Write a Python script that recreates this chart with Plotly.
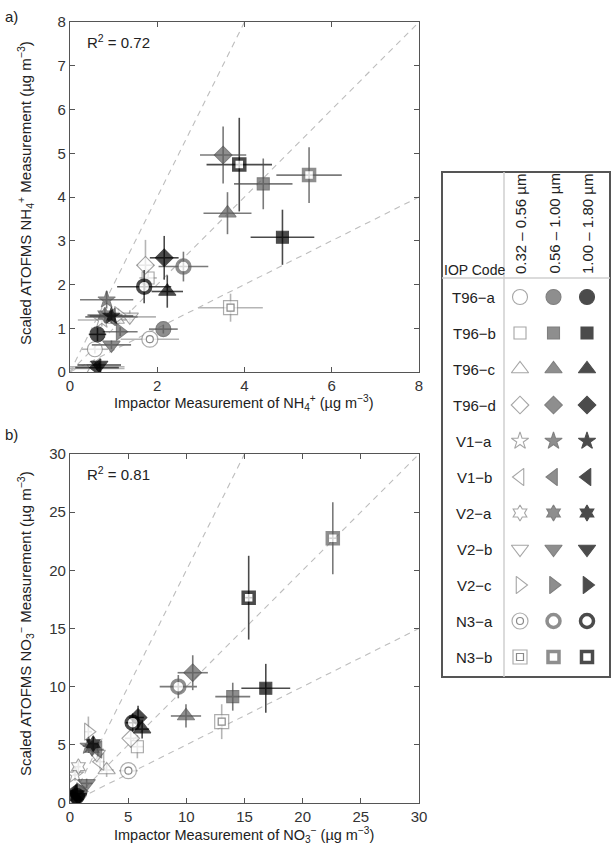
import plotly.graph_objects as go

# ---------------- data ----------------
CODES = ["T96-a", "T96-b", "T96-c", "T96-d", "V1-a", "V1-b", "V2-a", "V2-b", "V2-c", "N3-a", "N3-b"]
CODE_LABELS = ["T96−a", "T96−b", "T96−c", "T96−d", "V1−a", "V1−b", "V2−a", "V2−b", "V2−c", "N3−a", "N3−b"]
SIZE_BINS = ["0.32 – 0.56 µm", "0.56 – 1.00 µm", "1.00 – 1.80 µm"]

# Panel a) NH4+  (code, size-bin index, impactor x, ATOFMS y, x error, y error)
a_code = ["T96-a", "T96-a", "T96-a", "T96-b", "T96-b", "T96-b", "T96-c", "T96-c", "T96-c",
          "T96-d", "T96-d", "T96-d", "V1-a", "V1-a", "V1-a", "V1-b", "V1-b", "V1-b",
          "V2-a", "V2-a", "V2-b", "V2-b", "V2-b", "V2-c", "V2-c",
          "N3-a", "N3-a", "N3-a", "N3-b", "N3-b", "N3-b"]
a_bin = [0, 1, 2, 0, 1, 2, 0, 1, 2,
         0, 1, 2, 0, 1, 2, 0, 1, 2,
         0, 1, 0, 1, 2, 0, 1,
         0, 1, 2, 0, 1, 2]
a_x = [0.57, 2.14, 0.63, 1.79, 4.43, 4.87, 1.05, 3.61, 2.23,
       1.73, 3.51, 2.16, 0.73, 0.84, 0.95, 0.60, 0.95, 0.62,
       0.55, 0.80, 1.37, 0.95, 0.67, 1.11, 1.15,
       1.83, 2.60, 1.70, 3.68, 5.48, 3.88]
a_y = [0.52, 0.98, 0.86, 2.15, 4.30, 3.08, 1.20, 3.63, 1.84,
       2.44, 4.96, 2.61, 1.19, 1.65, 1.28, 0.12, 1.26, 0.10,
       0.08, 1.30, 1.26, 0.62, 0.16, 1.30, 0.92,
       0.75, 2.41, 1.95, 1.47, 4.50, 4.74]
a_xerr = [0.30, 0.33, 0.20, 0.20, 0.67, 0.73, 0.40, 0.55, 0.36,
          0.20, 0.53, 0.33, 0.55, 0.61, 0.50, 0.65, 0.60, 0.50,
          0.70, 0.40, 0.60, 0.45, 0.50, 0.40, 0.40,
          0.67, 0.57, 0.62, 0.74, 0.75, 0.75]
a_yerr = [0.10, 0.10, 0.15, 0.20, 0.58, 0.63, 0.15, 0.48, 0.37,
          0.58, 0.65, 0.50, 0.15, 0.20, 0.10, 0.05, 0.15, 0.05,
          0.05, 0.15, 0.15, 0.10, 0.05, 0.15, 0.10,
          0.10, 0.34, 0.38, 0.32, 0.64, 1.07]

# Panel b) NO3-
b_code = ["T96-a", "T96-a", "T96-a", "T96-b", "T96-b", "T96-b", "T96-c", "T96-c", "T96-c",
          "T96-d", "T96-d", "T96-d", "V1-a", "V1-a", "V1-a", "V1-b", "V1-b", "V1-b",
          "V2-a", "V2-a", "V2-a", "V2-b", "V2-b", "V2-b", "V2-c", "V2-c", "V2-c",
          "N3-a", "N3-a", "N3-a", "N3-b", "N3-b", "N3-b"]
b_bin = [0, 1, 2, 0, 1, 2, 0, 1, 2,
         0, 1, 2, 0, 1, 2, 0, 1, 2,
         0, 1, 2, 0, 1, 2, 0, 1, 2,
         0, 1, 2, 0, 1, 2]
b_x = [0.40, 0.80, 0.60, 5.79, 13.99, 16.83, 3.15, 9.97, 6.20,
       5.22, 10.55, 5.85, 0.43, 1.60, 0.50, 2.58, 2.40, 0.30,
       0.72, 1.90, 2.00, 2.30, 1.43, 0.70, 1.58, 0.90, 0.50,
       5.02, 9.31, 5.39, 13.04, 22.59, 15.36]
b_y = [0.50, 0.90, 0.60, 4.84, 9.14, 9.86, 2.84, 7.48, 6.35,
       5.56, 11.20, 7.35, 2.41, 4.90, 0.80, 3.55, 4.60, 0.90,
       3.12, 4.70, 5.10, 4.20, 1.69, 0.50, 6.13, 1.00, 0.30,
       2.78, 10.00, 6.90, 6.99, 22.76, 17.65]
b_xerr = [0.20, 0.30, 0.30, 0.50, 1.50, 2.10, 0.60, 1.30, 0.60,
          0.50, 1.30, 0.50, 0.20, 0.50, 0.30, 0.40, 0.50, 0.20,
          0.20, 0.40, 0.40, 0.40, 0.50, 0.30, 0.30, 0.30, 0.20,
          0.80, 1.60, 0.60, 0.30, 0.30, 0.30]
b_yerr = [0.20, 0.20, 0.20, 1.00, 1.20, 2.10, 0.60, 1.00, 0.80,
          0.80, 1.50, 1.00, 0.50, 0.60, 0.30, 0.60, 0.60, 0.20,
          0.50, 0.60, 0.60, 0.50, 0.40, 0.20, 1.30, 0.20, 0.10,
          0.40, 1.00, 0.80, 1.50, 3.10, 3.60]

R2_A = 0.72
R2_B = 0.81
REF_SLOPES = [2.0, 1.0, 0.5]

# ---------------- styles ----------------
FONT = "Liberation Sans, Arial, sans-serif"
SYMBOL = {"T96-a": "circle", "T96-b": "square", "T96-c": "triangle-up", "T96-d": "diamond",
          "V1-a": "star", "V1-b": "triangle-left", "V2-a": "hexagram", "V2-b": "triangle-down",
          "V2-c": "triangle-right", "N3-a": "circle", "N3-b": "square"}
MSIZE = {"T96-a": 15, "T96-b": 12, "T96-c": 15, "T96-d": 13.5, "V1-a": 13, "V1-b": 15,
         "V2-a": 12, "V2-b": 15, "V2-c": 15, "N3-a": 13, "N3-b": 11}
FILL = ["white", "#5f5f5f", "black"]
EDGE = ["#808080", "#4a4a4a", "black"]
ERRC = ["#b5b5b5", "#7a7a7a", "#4a4a4a"]
RING_EDGE = ["#8a8a8a", "#5f5f5f", "black"]


def marker_style(codes, bins):
    sym, size, fill, lc, lw = [], [], [], [], []
    for c, b in zip(codes, bins):
        sym.append(SYMBOL[c])
        if c in ("N3-a", "N3-b"):
            if b == 0:
                size.append(MSIZE[c] + 3)
                fill.append("white")
                lc.append(RING_EDGE[b])
                lw.append(1.2)
            else:
                size.append(MSIZE[c])
                fill.append("white")
                lc.append(RING_EDGE[b])
                lw.append(3.5)
        else:
            size.append(MSIZE[c])
            fill.append(FILL[b])
            lc.append(EDGE[b])
            lw.append(1.1)
    return dict(symbol=sym, size=size, color=fill, line=dict(color=lc, width=lw))


fig = go.Figure()


def add_panel(codes, bins, xs, ys, xe, ye, xa, ya, xmax):
    for r in REF_SLOPES:
        fig.add_trace(go.Scatter(x=[0, xmax], y=[0, r * xmax], mode="lines",
                                 line=dict(color="#bdbdbd", width=1.1, dash="6px,5px"),
                                 xaxis=xa, yaxis=ya, hoverinfo="skip", showlegend=False))
    for b in range(3):
        idx = [i for i in range(len(codes)) if bins[i] == b]
        cc = [codes[i] for i in idx]
        bb = [bins[i] for i in idx]
        fig.add_trace(go.Scatter(
            x=[xs[i] for i in idx], y=[ys[i] for i in idx], mode="markers",
            marker=marker_style(cc, bb),
            error_x=dict(type="data", array=[xe[i] for i in idx], color=ERRC[b], thickness=1.6, width=0),
            error_y=dict(type="data", array=[ye[i] for i in idx], color=ERRC[b], thickness=1.6, width=0),
            xaxis=xa, yaxis=ya, showlegend=False, text=cc, name=SIZE_BINS[b]))
        inner = [i for i in idx if codes[i] in ("N3-a", "N3-b") and b == 0]
        if inner:
            fig.add_trace(go.Scatter(
                x=[xs[i] for i in inner], y=[ys[i] for i in inner], mode="markers",
                marker=dict(symbol=[SYMBOL[codes[i]] for i in inner], size=7,
                            color="white", line=dict(color=RING_EDGE[0], width=1.2)),
                xaxis=xa, yaxis=ya, showlegend=False, hoverinfo="skip"))


add_panel(a_code, a_bin, a_x, a_y, a_xerr, a_yerr, "x", "y", 8)
add_panel(b_code, b_bin, b_x, b_y, b_xerr, b_yerr, "x2", "y2", 30)

# ---------------- legend table (pixel-space helper axes) ----------------
COL_X0, COL_DX = 520, 33.5
ROW_Y0, ROW_DY = 297, 36
for b in range(3):
    lx = [COL_X0 + b * COL_DX for _ in CODES]
    ly = [ROW_Y0 + i * ROW_DY for i in range(len(CODES))]
    fig.add_trace(go.Scatter(x=lx, y=ly, mode="markers", marker=marker_style(CODES, [b] * len(CODES)),
                             xaxis="x3", yaxis="y3", showlegend=False, hoverinfo="skip"))
    if b == 0:
        ring = [i for i, c in enumerate(CODES) if c in ("N3-a", "N3-b")]
        fig.add_trace(go.Scatter(x=[lx[i] for i in ring], y=[ly[i] for i in ring], mode="markers",
                                 marker=dict(symbol=[SYMBOL[CODES[i]] for i in ring], size=7, color="white",
                                             line=dict(color=RING_EDGE[0], width=1.2)),
                                 xaxis="x3", yaxis="y3", showlegend=False, hoverinfo="skip"))

annotations = []
for i, lab in enumerate(CODE_LABELS):
    annotations.append(dict(x=474, y=ROW_Y0 + i * ROW_DY, xref="x3", yref="y3", text=lab, showarrow=False,
                            font=dict(size=15, color="#222", family=FONT), xanchor="center", yanchor="middle"))
for b, lab in enumerate(SIZE_BINS):
    annotations.append(dict(x=COL_X0 + b * COL_DX, y=276, xref="x3", yref="y3", text=lab, showarrow=False,
                            textangle=-90, font=dict(size=15, color="#222", family=FONT),
                            xanchor="center", yanchor="bottom"))
annotations.append(dict(x=474, y=270, xref="x3", yref="y3", text="IOP Code", showarrow=False,
                        font=dict(size=14, color="#222", family=FONT), xanchor="center", yanchor="middle"))

# panel labels, R2 and axis titles
annotations += [
    dict(x=3, y=16, xref="x3", yref="y3", text="a)", showarrow=False, xanchor="left",
         font=dict(size=15, color="#222", family=FONT)),
    dict(x=3, y=434, xref="x3", yref="y3", text="b)", showarrow=False, xanchor="left",
         font=dict(size=15, color="#222", family=FONT)),
    dict(x=85, y=41, xref="x3", yref="y3", text="R<sup>2</sup> = %.2f" % R2_A, showarrow=False, xanchor="left",
         font=dict(size=15, color="#222", family=FONT)),
    dict(x=85, y=473, xref="x3", yref="y3", text="R<sup>2</sup> = %.2f" % R2_B, showarrow=False, xanchor="left",
         font=dict(size=15, color="#222", family=FONT)),
    dict(x=244, y=403, xref="x3", yref="y3",
         text="Impactor Measurement of NH<sub>4</sub><sup>+</sup> (µg m<sup>−3</sup>)", showarrow=False,
         font=dict(size=14.5, color="#222", family=FONT)),
    dict(x=244, y=835, xref="x3", yref="y3",
         text="Impactor Measurement of NO<sub>3</sub><sup>−</sup> (µg m<sup>−3</sup>)", showarrow=False,
         font=dict(size=14.5, color="#222", family=FONT)),
    dict(x=25, y=193, xref="x3", yref="y3", textangle=-90,
         text="Scaled ATOFMS NH<sub>4</sub><sup>+</sup> Measurement (µg m<sup>−3</sup>)", showarrow=False,
         font=dict(size=15, color="#222", family=FONT)),
    dict(x=25, y=624, xref="x3", yref="y3", textangle=-90,
         text="Scaled ATOFMS NO<sub>3</sub><sup>−</sup> Measurement (µg m<sup>−3</sup>)", showarrow=False,
         font=dict(size=15, color="#222", family=FONT)),
]

shapes = [
    dict(type="rect", xref="x3", yref="y3", x0=442, x1=610, y0=172, y1=677, line=dict(color="#555", width=2)),
    dict(type="line", xref="x3", yref="y3", x0=504, x1=504, y0=172, y1=677, line=dict(color="#cfcfcf", width=1.5)),
    dict(type="line", xref="x3", yref="y3", x0=442, x1=610, y0=278, y1=278, line=dict(color="#cfcfcf", width=1.5)),
]

W, H = 611, 846
xdom = [70 / W, 419 / W]
ax = dict(showline=True, linecolor="#555", linewidth=1.3, mirror="ticks", ticks="inside", ticklen=5,
          tickcolor="#555", tickfont=dict(size=15, color="#333", family=FONT), showgrid=False,
          zeroline=False, automargin=False)

fig.update_layout(
    width=W, height=H, margin=dict(l=0, r=0, t=0, b=0),
    paper_bgcolor="white", plot_bgcolor="rgba(0,0,0,0)", showlegend=False,
    xaxis=dict(ax, domain=xdom, range=[0, 8], dtick=2, anchor="y"),
    yaxis=dict(ax, domain=[1 - 372 / H, 1 - 22 / H], range=[0, 8], dtick=1, anchor="x"),
    xaxis2=dict(ax, domain=xdom, range=[0, 30], dtick=5, anchor="y2"),
    yaxis2=dict(ax, domain=[1 - 803 / H, 1 - 454 / H], range=[0, 30], dtick=5, anchor="x2"),
    xaxis3=dict(domain=[0, 1], range=[0, W], visible=False, fixedrange=True, anchor="y3"),
    yaxis3=dict(domain=[0, 1], range=[H, 0], visible=False, fixedrange=True, anchor="x3"),
    annotations=annotations, shapes=shapes,
)

fig.write_html("out.html")
